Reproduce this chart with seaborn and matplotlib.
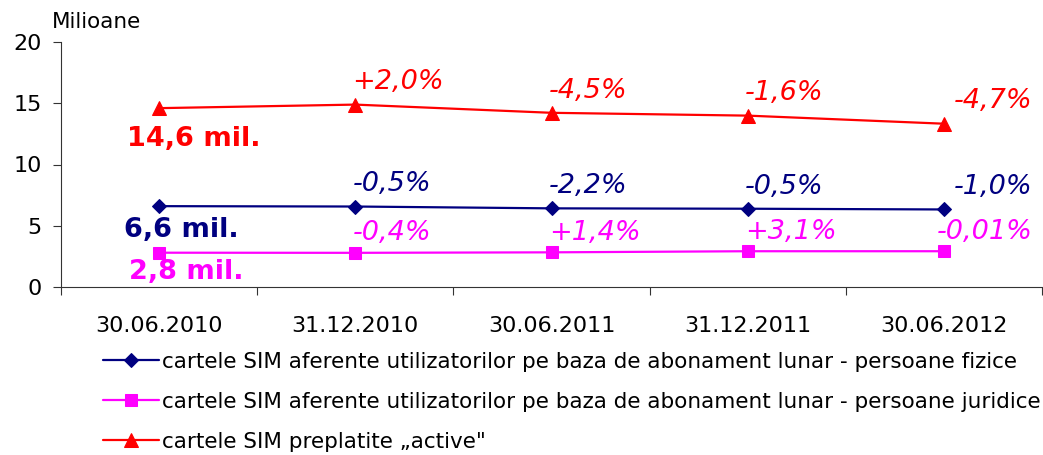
import numpy as np
import pandas as pd
import matplotlib.pyplot as plt
import seaborn as sns
from matplotlib.ticker import FixedLocator, NullFormatter

# -----------------------------
# Data
# -----------------------------
PERIODS = ["30.06.2010", "31.12.2010", "30.06.2011", "31.12.2011", "30.06.2012"]

FIZICE = [6.6, 6.57, 6.42, 6.39, 6.33]
JURIDICE = [2.8, 2.79, 2.83, 2.92, 2.92]
PREPLATITE = [14.6, 14.89, 14.22, 13.99, 13.33]

FIZICE_PCT = ["", "-0,5%", "-2,2%", "-0,5%", "-1,0%"]
JURIDICE_PCT = ["", "-0,4%", "+1,4%", "+3,1%", "-0,01%"]
PREPLATITE_PCT = ["", "+2,0%", "-4,5%", "-1,6%", "-4,7%"]

START_LABELS = ["6,6 mil.", "2,8 mil.", "14,6 mil."]

SERIES = [
    ("cartele SIM aferente utilizatorilor pe baza de abonament lunar - persoane fizice", FIZICE, FIZICE_PCT),
    ("cartele SIM aferente utilizatorilor pe baza de abonament lunar - persoane juridice", JURIDICE, JURIDICE_PCT),
    ("cartele SIM preplatite \u201eactive\"", PREPLATITE, PREPLATITE_PCT),
]

COLORS = ["#000080", "#FF00FF", "#FF0000"]
MARKERS = ["D", "s", "^"]
MSIZES = [7, 9, 10]

# -----------------------------
# Plot
# -----------------------------
sns.set_style("white")
plt.rcParams["font.family"] = ["DejaVu Sans"]
plt.rcParams["text.color"] = "black"
plt.rcParams["xtick.color"] = "black"
plt.rcParams["ytick.color"] = "black"

W, H = 1043, 455
fig = plt.figure(figsize=(W / 100, H / 100), dpi=100)
ax = fig.add_axes([61 / W, 1 - 287 / H, (1042 - 61) / W, (287 - 42) / H])

x = np.arange(len(PERIODS))
for (name, vals, pcts), color, marker, ms in zip(SERIES, COLORS, MARKERS, MSIZES):
    df = pd.DataFrame({"x": x, "y": vals})
    sns.lineplot(data=df, x="x", y="y", ax=ax, color=color, marker=marker,
                 markersize=ms, markeredgecolor=color, linewidth=1.6, label=name)
    for i, (xi, yi, txt) in enumerate(zip(x, vals, pcts)):
        if not txt:
            continue
        last = i == len(x) - 1
        ax.annotate(txt, xy=(xi, yi),
                    xytext=(64 if last else -2, 16 if color != "#FF00FF" else 14),
                    textcoords="offset points",
                    ha="right" if last else "left", va="center",
                    fontsize=19.5, style="italic", color=color,
                    annotation_clip=False)

# start labels ("x mil.")
start_offsets = [(-25, -17), (-22, -14), (-23, -22)]
for (name, vals, _), color, lbl, off in zip(SERIES, COLORS, START_LABELS, start_offsets):
    ax.annotate(lbl, xy=(0, vals[0]), xytext=off, textcoords="offset points",
                ha="left", va="center", fontsize=19.5, fontweight="bold",
                color=color, annotation_clip=False)

ax.set_xlim(-0.5, len(PERIODS) - 0.5)
ax.set_ylim(0, 20)
ax.set_yticks([0, 5, 10, 15, 20])
ax.set_xticks(x)
ax.set_xticklabels(PERIODS)
ax.xaxis.set_minor_locator(FixedLocator(np.arange(-0.5, len(PERIODS), 1.0)))
ax.xaxis.set_minor_formatter(NullFormatter())
ax.tick_params(axis="x", which="major", length=0, pad=21, labelsize=16)
ax.tick_params(axis="x", which="minor", length=6, width=0.8, color="#333333", direction="out", bottom=True)
ax.tick_params(axis="y", length=6, width=0.8, color="#333333", direction="out", left=True, labelsize=16, pad=8)
ax.set_xlabel("")
ax.set_ylabel("")

for s in ["top", "right"]:
    ax.spines[s].set_visible(False)
for s in ["left", "bottom"]:
    ax.spines[s].set_color("#333333")
    ax.spines[s].set_linewidth(0.8)

fig.text(52 / W, 1 - 22 / H, "Milioane", fontsize=15.5, ha="left", va="center")

h, l = ax.get_legend_handles_labels()
ax.get_legend().remove()
fig.legend(h, l, loc="upper left", bbox_to_anchor=(103 / W, 1 - 352 / H),
           frameon=False, fontsize=15.5, handlelength=2.6, handletextpad=0.15,
           labelspacing=0.92, borderaxespad=0, borderpad=0)

fig.savefig("out.png", dpi=100)
